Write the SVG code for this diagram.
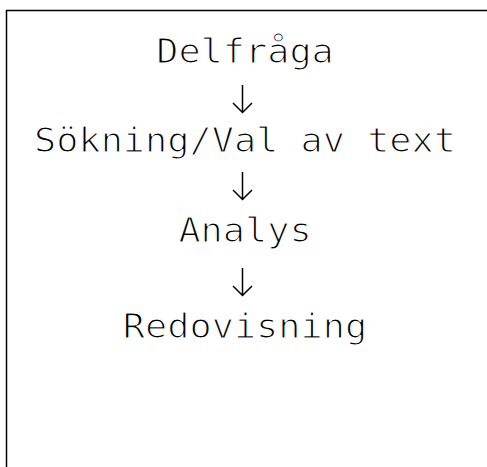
<svg xmlns="http://www.w3.org/2000/svg" width="487" height="467" viewBox="0 0 487 467">
<style>
.t{font-family:"DejaVu Sans Mono","Liberation Mono",monospace;font-size:34px;fill:#000;text-anchor:middle;stroke:#fff;stroke-width:1.2px}
.c{fill:none;stroke:#000;stroke-width:1.5;stroke-linecap:butt;stroke-linejoin:miter}
</style>
<rect x="0" y="0" width="487" height="467" fill="#fff"/>
<rect x="6.5" y="10.5" width="500" height="480" fill="none" stroke="#000" stroke-width="1.5"/>
<g id="n1"><text class="t" transform="translate(245 63) scale(1.085 1)">Delfråga</text></g>
<g id="n2"><text class="t" transform="translate(245 152) scale(1.085 1)">Sökning/Val av text</text></g>
<g id="n3"><text class="t" transform="translate(245 242) scale(1.085 1)">Analys</text></g>
<g id="n4"><text class="t" transform="translate(245 338) scale(1.085 1)">Redovisning</text></g>
<g id="connectors">
<path class="c" d="M242.5 85V112M233 103L242.5 112.5L252 103"/>
<path class="c" d="M242.5 172V199M233 190L242.5 199.5L252 190"/>
<path class="c" d="M242.5 268V295M233 286L242.5 295.5L252 286"/>
</g>
</svg>
